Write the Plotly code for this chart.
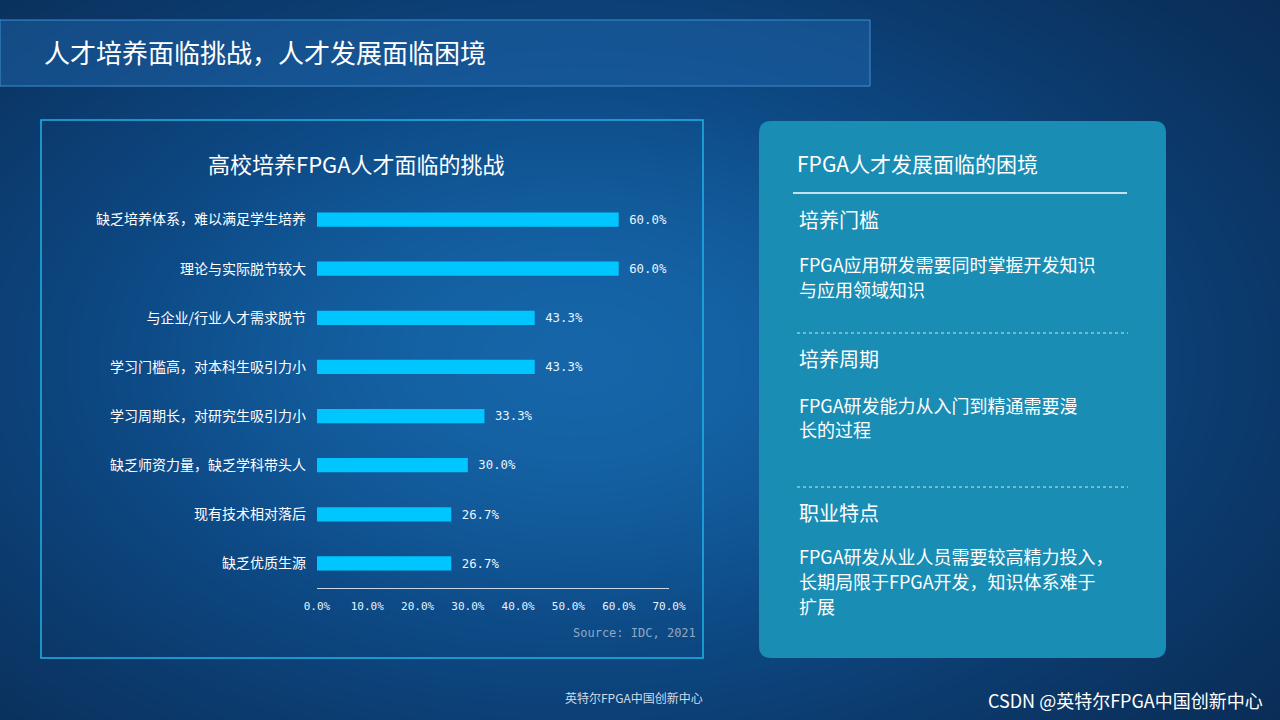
import numpy as np
import plotly.graph_objects as go

W, H = 1280, 720

categories = [
    "缺乏培养体系，难以满足学生培养",
    "理论与实际脱节较大",
    "与企业/行业人才需求脱节",
    "学习门槛高，对本科生吸引力小",
    "学习周期长，对研究生吸引力小",
    "缺乏师资力量，缺乏学科带头人",
    "现有技术相对落后",
    "缺乏优质生源",
]
values = [60.0, 60.0, 43.3, 43.3, 33.3, 30.0, 26.7, 26.7]
tick_vals = [0, 10, 20, 30, 40, 50, 60, 70]
tick_text = ["0.0%", "10.0%", "20.0%", "30.0%", "40.0%", "50.0%", "60.0%", "70.0%"]

CJK = "Noto Sans CJK SC"
MONO = "DejaVu Sans Mono"


def px(x):
    return x / W


def py(y):
    return 1 - y / H


# background gradient (radial glow, lighter in the middle)
gx, gy = np.meshgrid(np.linspace(0, 1, 64), np.linspace(0, 1, 36))
glow = np.exp(-(((gx - 0.45) / 0.55) ** 2 + ((gy - 0.5) / 0.6) ** 2))

fig = go.Figure()
fig.add_trace(go.Heatmap(
    z=glow, x=np.linspace(0, 1, 64), y=np.linspace(0, 1, 36),
    colorscale=[[0, "#0a2d57"], [0.6, "#0d4a86"], [1, "#1565a8"]],
    showscale=False, zsmooth="best", hoverinfo="skip", xaxis="x", yaxis="y",
))
fig.add_trace(go.Bar(
    x=values, y=categories, orientation="h", xaxis="x2", yaxis="y2",
    marker=dict(color="#00c6ff", line=dict(width=0)), width=0.29,
    text=[f" {v:.1f}%" for v in values], textposition="outside",
    textfont=dict(family=MONO, size=13, color="#e8f4ff"), cliponaxis=False,
))

shapes = [
    # title bar
    dict(type="rect", xref="paper", yref="paper", x0=px(0), x1=px(870), y0=py(86), y1=py(20),
         fillcolor="rgba(30,100,170,0.5)", line=dict(color="#3a8fd0", width=1), layer="above"),
    # chart frame
    dict(type="rect", xref="paper", yref="paper", x0=px(41), x1=px(703), y0=py(658), y1=py(120),
         fillcolor="rgba(0,0,0,0)", line=dict(color="#1fb4e8", width=1.5), layer="above"),
]
# rounded right panel
x0, x1, y0, y1, r = 759, 1166, 121, 658, 12
path = (f"M {px(x0+r)},{py(y0)} L {px(x1-r)},{py(y0)} Q {px(x1)},{py(y0)} {px(x1)},{py(y0+r)} "
        f"L {px(x1)},{py(y1-r)} Q {px(x1)},{py(y1)} {px(x1-r)},{py(y1)} "
        f"L {px(x0+r)},{py(y1)} Q {px(x0)},{py(y1)} {px(x0)},{py(y1-r)} "
        f"L {px(x0)},{py(y0+r)} Q {px(x0)},{py(y0)} {px(x0+r)},{py(y0)} Z")
shapes.append(dict(type="path", xref="paper", yref="paper", path=path,
                   fillcolor="#1a8db4", line=dict(width=0), layer="above"))
shapes.append(dict(type="line", xref="paper", yref="paper", x0=px(793), x1=px(1127), y0=py(193), y1=py(193),
                   line=dict(color="white", width=1.5), layer="above"))
for yy in (333, 487):
    shapes.append(dict(type="line", xref="paper", yref="paper", x0=px(797), x1=px(1128), y0=py(yy), y1=py(yy),
                       line=dict(color="rgba(255,255,255,0.8)", width=1, dash="dot"), layer="above"))

ann = []


def text(x, y, s, size, anchor="left", color="white", family=CJK):
    ann.append(dict(x=px(x), y=py(y), xref="paper", yref="paper", text=s, showarrow=False,
                    xanchor=anchor, yanchor="middle", align="left",
                    font=dict(family=family, size=size, color=color)))


text(42, 52, "人才培养面临挑战，人才发展面临困境", 26)
text(356, 163, "高校培养FPGA人才面临的挑战", 22, "center")
text(698, 633, "Source: IDC, 2021", 12, "right", "#8fa9c4", MONO)
text(795, 163, "FPGA人才发展面临的困境", 21)
text(797, 219, "培养门槛", 20)
text(797, 264, "FPGA应用研发需要同时掌握开发知识", 18)
text(797, 289, "与应用领域知识", 18)
text(797, 358, "培养周期", 20)
text(797, 405, "FPGA研发能力从入门到精通需要漫", 18)
text(797, 429, "长的过程", 18)
text(797, 512, "职业特点", 20)
text(797, 556, "FPGA研发从业人员需要较高精力投入，", 18)
text(797, 581, "长期局限于FPGA开发，知识体系难于", 18)
text(797, 606, "扩展", 18)
text(634, 697, "英特尔FPGA中国创新中心", 12, "center", "#d0dcea")
text(1265, 700, "CSDN @英特尔FPGA中国创新中心", 18, "right", "white")

fig.update_layout(
    width=W, height=H, margin=dict(l=0, r=0, t=0, b=0, pad=0, autoexpand=False),
    paper_bgcolor="#0a2d57", plot_bgcolor="rgba(0,0,0,0)",
    showlegend=False, shapes=shapes, annotations=ann,
    xaxis=dict(domain=[0, 1], range=[0, 1], visible=False, fixedrange=True, automargin=False),
    yaxis=dict(domain=[0, 1], range=[0, 1], visible=False, fixedrange=True, automargin=False),
    xaxis2=dict(domain=[px(317), px(669)], anchor="y2", range=[0, 70], tickvals=tick_vals, ticktext=tick_text,
                showgrid=False, zeroline=False, showline=True, linecolor="#c8d6e6", linewidth=1,
                ticks="", automargin=False, ticklabelstandoff=8,
                tickfont=dict(family=MONO, size=11, color="#e8f4ff")),
    yaxis2=dict(domain=[py(588), py(195)], anchor="x2", autorange="reversed", showgrid=False,
                ticks="", automargin=False, ticklabelstandoff=10,
                tickfont=dict(family=CJK, size=14, color="white")),
)

fig.write_html(
    "out.html",
    config={"displayModeBar": False},
    post_script=("document.documentElement.style.overflow='hidden';"
                 "document.body.style.margin='0';document.body.style.overflow='hidden';"),
)
